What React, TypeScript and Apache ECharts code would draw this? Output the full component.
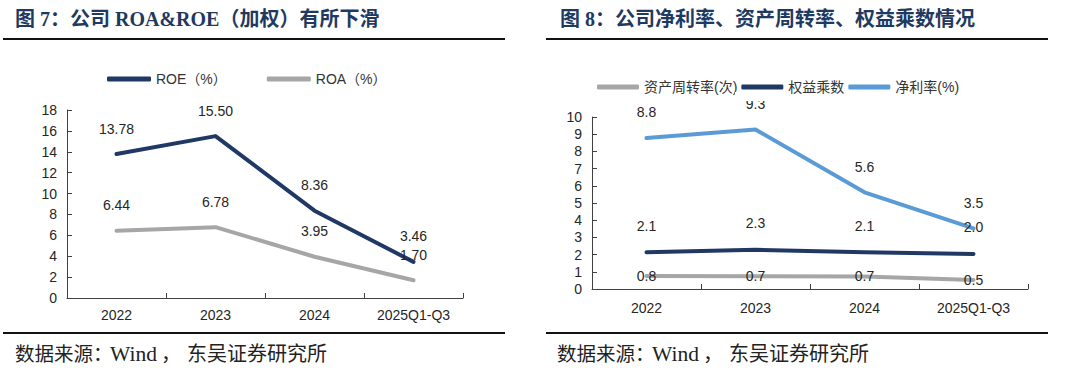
import React, { useEffect, useRef } from "react";
import * as echarts from "echarts";

const categories = ["2022", "2023", "2024", "2025Q1-Q3"];
const roe = [13.78, 15.5, 8.36, 3.46];
const roa = [6.44, 6.78, 3.95, 1.7];
const assetTurnover = [0.76, 0.74, 0.73, 0.52];
const equityMultiplier = [2.14, 2.28, 2.13, 2.04];
const netMargin = [8.78, 9.27, 5.62, 3.52];

const leftTitle = "图 7：公司 ROA&ROE（加权）有所下滑";
const rightTitle = "图 8：公司净利率、资产周转率、权益乘数情况";
const sourceParts = ["数据来源：", "Wind", "，", "东吴证券研究所"];

const NAVY = "#1f3864";
const GRAY = "#a6a6a6";
const BLUE = "#5b9bd5";
const AXIS = "#404040";
const TXT = "#262626";
const SANS = "Liberation Sans, Arial, Noto Sans CJK SC";
const SERIF = "Liberation Serif, Times New Roman, Noto Sans CJK SC";

export default function App() {
  const ref = useRef<HTMLDivElement>(null);
  useEffect(() => {
    if (!ref.current) return;
    const chart = echarts.init(ref.current, undefined, { renderer: "svg" });

    const xAxisBase = (gridIndex: number, margin: number) => ({
      gridIndex,
      type: "category",
      data: categories,
      boundaryGap: true,
      axisLine: { show: true, lineStyle: { color: AXIS, width: 1 } },
      axisTick: { show: true, inside: true, length: 5, lineStyle: { color: AXIS } },
      axisLabel: { fontSize: 14, color: TXT, margin, fontFamily: SANS },
      splitLine: { show: false },
    });
    const yAxisBase = (gridIndex: number, max: number, interval: number) => ({
      gridIndex,
      type: "value",
      min: 0,
      max,
      interval,
      axisLine: { show: true, lineStyle: { color: AXIS, width: 1 } },
      axisTick: { show: true, inside: true, length: 5, lineStyle: { color: AXIS } },
      axisLabel: { fontSize: 14, color: TXT, margin: 10, fontFamily: SANS },
      splitLine: { show: false },
    });

    const lineSeries = (
      name: string,
      data: number[],
      color: string,
      idx: number,
      digits: number,
      pos: "top" | "inside",
      distance: number
    ) => ({
      name,
      type: "line",
      xAxisIndex: idx,
      yAxisIndex: idx,
      data,
      symbol: "circle",
      symbolSize: 1,
      itemStyle: { color },
      lineStyle: { color, width: 4, cap: "round", join: "round" },
      label: {
        show: true,
        position: pos,
        distance,
        fontSize: 14,
        color: TXT,
        fontFamily: SANS,
        formatter: (p: any) => Number(p.value).toFixed(digits),
      },
      emphasis: { disabled: true },
    });

    const hLine = (x1: number, x2: number, y: number) => ({
      type: "line",
      shape: { x1, y1: y, x2, y2: y },
      style: { stroke: "#111", lineWidth: 2 },
      z: 100,
    });
    const txt = (x: number, y: number, text: string, size: number, weight: string, color: string, family: string) => ({
      type: "text",
      x,
      y,
      style: { text, fontSize: size, fontWeight: weight, fill: color, fontFamily: family, textVerticalAlign: "middle" },
      z: 100,
    });
    const source = (x0: number) => [
      txt(x0, 354, sourceParts[0], 19.5, "normal", "#222", SERIF),
      txt(x0 + 95, 354, sourceParts[1], 21.5, "normal", "#222", SERIF),
      txt(x0 + 146, 354, sourceParts[2], 20, "normal", "#222", SERIF),
      txt(x0 + 172, 354, sourceParts[3], 20, "normal", "#222", SERIF),
    ];

    chart.setOption({
      animation: false,
      grid: [
        { left: 67, top: 110, width: 396, height: 188 },
        { left: 592, top: 117, width: 436, height: 172 },
      ],
      xAxis: [xAxisBase(0, 10), xAxisBase(1, 12)],
      yAxis: [yAxisBase(0, 18, 2), yAxisBase(1, 10, 1)],
      legend: [
        {
          left: 102,
          top: 67,
          itemWidth: 44,
          itemHeight: 5,
          itemGap: 40,
          icon: "roundRect",
          data: ["ROE（%）", "ROA（%）"],
          textStyle: { fontSize: 14, color: "#333", fontFamily: SANS },
        },
        {
          left: 592,
          top: 75,
          itemWidth: 42,
          itemHeight: 5,
          itemGap: 4,
          icon: "roundRect",
          data: ["资产周转率(次)", "权益乘数", "净利率(%)"],
          textStyle: { fontSize: 14, color: "#333", fontFamily: SANS },
        },
      ],
      series: [
        lineSeries("ROE（%）", roe, NAVY, 0, 2, "top", 18),
        lineSeries("ROA（%）", roa, GRAY, 0, 2, "top", 18),
        lineSeries("资产周转率(次)", assetTurnover, GRAY, 1, 1, "inside", 0),
        lineSeries("权益乘数", equityMultiplier, NAVY, 1, 1, "top", 19),
        lineSeries("净利率(%)", netMargin, BLUE, 1, 1, "top", 18),
      ],
      graphic: [
        txt(15, 19, leftTitle, 20, "bold", "#1f3a60", SERIF),
        txt(560, 19, rightTitle, 20, "bold", "#1f3a60", SERIF),
        hLine(3, 505, 39),
        hLine(546, 1048, 39),
        hLine(3, 505, 333),
        hLine(546, 1048, 333),
        ...source(15),
        ...source(557),
        {
          type: "rect",
          shape: { x: 735, y: 92, width: 40, height: 9 },
          style: { fill: "#fff" },
          z: 100,
        },
      ],
    });
    return () => chart.dispose();
  }, []);
  return (
    <div
      ref={ref}
      style={{ position: "fixed", left: 0, top: 0, width: 1080, height: 373, background: "#fff" }}
    />
  );
}
